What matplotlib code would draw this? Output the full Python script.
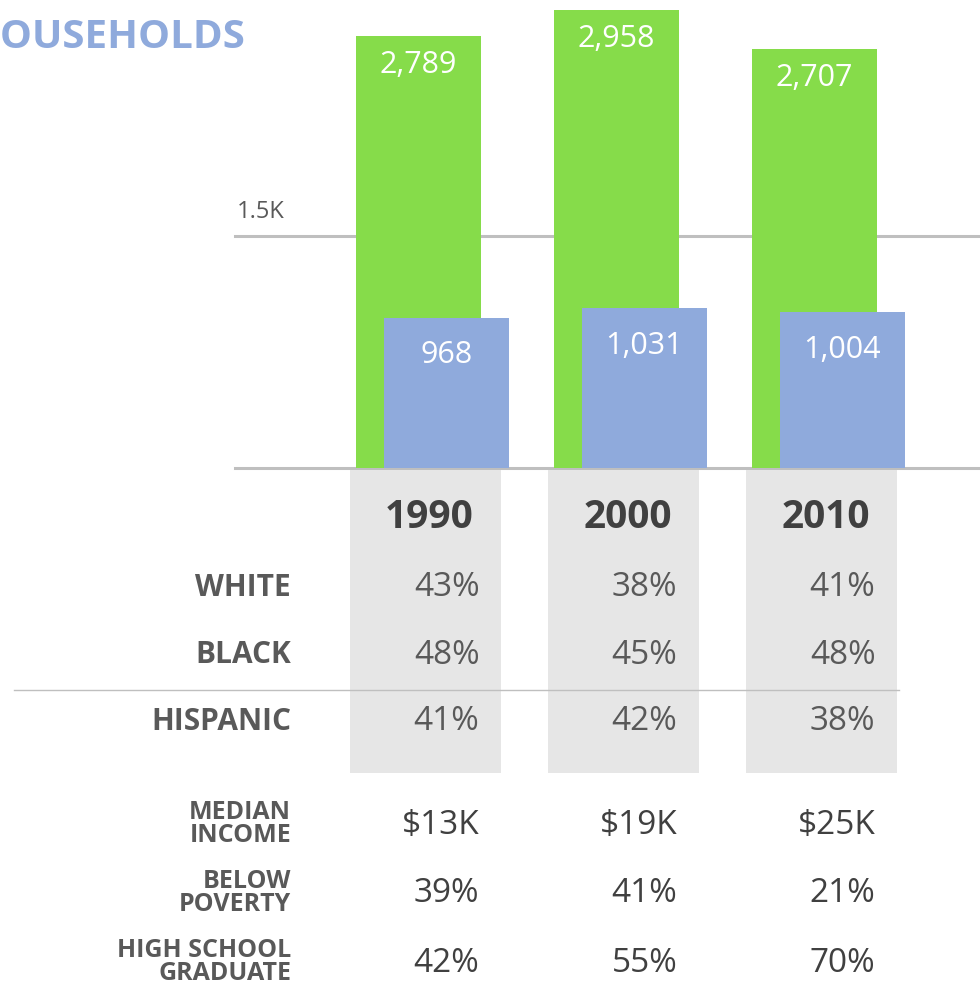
import matplotlib
matplotlib.use("Agg")
import matplotlib.pyplot as plt
from matplotlib.patches import Rectangle

plt.rcParams['font.family'] = ['Open Sans', 'DejaVu Sans']

# ---- data ----
years = ["1990", "2000", "2010"]
total_households = [2789, 2958, 2707]
black_households = [968, 1031, 1004]
race_rows = ["WHITE", "BLACK", "HISPANIC"]
race_share = {
    "WHITE": ["43%", "38%", "41%"],
    "BLACK": ["48%", "45%", "48%"],
    "HISPANIC": ["41%", "42%", "38%"],
}
econ_rows = ["MEDIAN\nINCOME", "BELOW\nPOVERTY", "HIGH SCHOOL\nGRADUATE"]
econ_values = [
    ["$13K", "$19K", "$25K"],
    ["39%", "41%", "21%"],
    ["42%", "55%", "70%"],
]
grid_value = 1500
grid_label = "1.5K"

# ---- styling ----
GREEN = "#86dc4a"
BLUE = "#8faadc"
GRID = "#bfbfbf"
COLBG = "#e6e6e6"
DARK = "#404040"
MID = "#595959"

W, H = 980, 989
fig = plt.figure(figsize=(W / 100, H / 100), dpi=100)

# x axis in "group" units shared by the bar axes and the table overlay
unit = 198.0          # pixels per group
x0_px = 418.5         # pixel of first group centre
xlim = (-x0_px / unit, (W - x0_px) / unit)

base_px = 468
ax = fig.add_axes([0, (H - base_px) / H, 1, base_px / H])
ax.set_xlim(*xlim)
ax.set_ylim(0, 3020)
ax.axis("off")

xs = list(range(len(years)))
bw = 125 / unit
shift = 28 / unit

ax.axhline(grid_value, xmin=235 / W, xmax=1, color=GRID, lw=2.2, zorder=0)
ax.axhline(0, xmin=235 / W, xmax=1, color=GRID, lw=2.2, zorder=0, clip_on=False)
ax.annotate(grid_label, ((235 - x0_px) / unit, grid_value),
            xytext=(1, 8), textcoords="offset points",
            ha="left", va="bottom", fontsize=17, color=MID)

green = ax.bar(xs, total_households, width=bw, color=GREEN, zorder=2)
blue = ax.bar([x + shift for x in xs], black_households, width=bw, color=BLUE, zorder=3)

for rect, v in zip(green, total_households):
    ax.annotate(f"{v:,}", (rect.get_x() + rect.get_width() / 2, v),
                xytext=(0, -21), textcoords="offset points",
                ha="center", va="center", color="white", fontsize=22, zorder=5)
for rect, v in zip(blue, black_households):
    ax.annotate(f"{v:,}", (rect.get_x() + rect.get_width() / 2, v),
                xytext=(0, -27), textcoords="offset points",
                ha="center", va="center", color="white", fontsize=22, zorder=5)

# ---- title ----
fig.text(245 / W, 1 - 37 / H, "HOUSEHOLDS", ha="right", va="center",
         fontsize=29, fontweight="bold", color=BLUE)

# ---- table overlay (pixel y, group x) ----
tx = fig.add_axes([0, 0, 1, 1], zorder=5)
tx.set_xlim(*xlim)
tx.set_ylim(H, 0)
tx.axis("off")
tx.patch.set_alpha(0)

col_w = 151 / unit
col_off = 7 / unit
for x in xs:
    tx.add_patch(Rectangle((x + col_off - col_w / 2, 470), col_w, 303,
                           facecolor=COLBG, edgecolor="none", zorder=0))

tx.plot([(14 - x0_px) / unit, (899 - x0_px) / unit], [690, 690],
        color=GRID, lw=1.0, zorder=1)

label_x = (291 - x0_px) / unit
val_off = 61 / unit

for x, yr in zip(xs, years):
    tx.text(x + col_off + 4 / unit, 517, yr, ha="center", va="center",
            fontsize=28, fontweight="bold", color=DARK)

race_y = [588, 655, 722]
for name, y in zip(race_rows, race_y):
    tx.text(label_x, y, name, ha="right", va="center",
            fontsize=21.5, fontweight="bold", color=MID)
    for x, s in zip(xs, race_share[name]):
        tx.text(x + val_off, y, s, ha="right", va="center",
                fontsize=24, color=MID)

econ_label_y = [824, 893, 962]
econ_value_y = [825, 894, 964]
for name, yl, yv, vals in zip(econ_rows, econ_label_y, econ_value_y, econ_values):
    tx.text(label_x, yl, name, ha="right", va="center", linespacing=0.92,
            fontsize=18, fontweight="bold", color=MID)
    for x, s in zip(xs, vals):
        tx.text(x + val_off, yv, s, ha="right", va="center",
                fontsize=24, color=DARK)

fig.savefig("out.png", dpi=100)
